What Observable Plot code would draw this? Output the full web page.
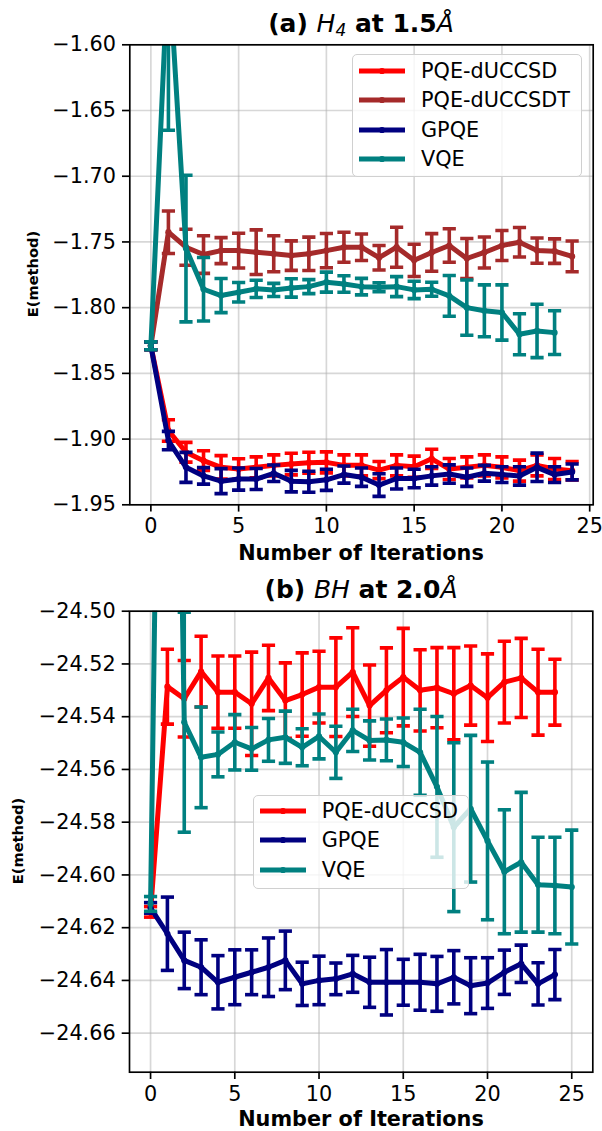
<!DOCTYPE html>
<html>
<head>
<meta charset="utf-8">
<script src="https://cdn.jsdelivr.net/npm/d3@7"></script>
<script src="https://cdn.jsdelivr.net/npm/@observablehq/plot@0.6"></script>
<style>
  body { margin: 0; background: #fff; font-family: "DejaVu Sans", sans-serif; }
  #root { position: relative; width: 602px; height: 1131px; overflow: hidden; background: #fff; }
  .abs { position: absolute; }
  .title { font-weight: bold; font-size: 25px; line-height: 25px; white-space: nowrap; transform: translateX(-50%); color: #000; }
  .title i { font-weight: normal; }
  .xlab { font-weight: bold; font-size: 20.8px; line-height: 20.8px; white-space: nowrap; transform: translateX(-50%); }
  .ylab { font-weight: bold; font-size: 14.6px; line-height: 14.6px; white-space: nowrap; transform: translate(-50%, -50%) rotate(-90deg); }
  .legend { background: rgba(255,255,255,0.8); border: 1.5px solid #d0d0d0; border-radius: 5px; box-sizing: border-box; }
  .legtext { font-size: 20.8px; line-height: 20.8px; white-space: nowrap; color: #000; }
</style>
</head>
<body>
<div id="root"></div>
<script>
// ---------------- data ----------------
const seriesNames = ["PQE-dUCCSD", "PQE-dUCCSDT", "GPQE", "VQE"];
const seriesColors = ["#ff0000", "#a52a2a", "#000080", "#008080"];

const xTickLabels = [0, 5, 10, 15, 20, 25];
const yTicksA = [-1.95, -1.90, -1.85, -1.80, -1.75, -1.70, -1.65, -1.60];
const yTicksB = [-24.66, -24.64, -24.62, -24.60, -24.58, -24.56, -24.54, -24.52, -24.50];

// Panel (a): H4 at 1.5 Å
const itersA = [0,1,2,3,4,5,6,7,8,9,10,11,12,13,14,15,16,17,18,19,20,21,22,23,24];
const itersAvqe = [0,1,2,3,4,5,6,7,8,9,10,11,12,13,14,15,16,17,18,19,20,21,22,23];

const aPqeSD = [-1.829,-1.8935,-1.910,-1.9164,-1.9215,-1.9228,-1.9215,-1.920,-1.919,-1.918,-1.9177,-1.920,-1.920,-1.9236,-1.920,-1.921,-1.915,-1.9228,-1.9215,-1.920,-1.9215,-1.924,-1.920,-1.9228,-1.924];
const aPqeSDerr = [0.003,0.0082,0.0075,0.0075,0.0089,0.0078,0.008,0.008,0.0082,0.008,0.008,0.008,0.008,0.0065,0.008,0.008,0.0073,0.008,0.008,0.008,0.008,0.008,0.008,0.008,0.007];

const aPqeSDT = [-1.829,-1.7426,-1.754,-1.7596,-1.7566,-1.7566,-1.7578,-1.759,-1.7604,-1.759,-1.7566,-1.754,-1.754,-1.762,-1.754,-1.764,-1.758,-1.7527,-1.7626,-1.758,-1.7527,-1.7502,-1.7566,-1.757,-1.761];
const aPqeSDTerr = [0.003,0.0162,0.0137,0.0143,0.0099,0.0132,0.017,0.0137,0.0112,0.0127,0.013,0.0114,0.0101,0.0093,0.0152,0.0123,0.0143,0.0127,0.0152,0.0118,0.0114,0.0112,0.0096,0.0093,0.0117];

const aGpqe = [-1.829,-1.9011,-1.9215,-1.928,-1.932,-1.9304,-1.9304,-1.926,-1.932,-1.9325,-1.931,-1.927,-1.929,-1.935,-1.930,-1.930,-1.928,-1.9266,-1.929,-1.926,-1.927,-1.928,-1.9215,-1.927,-1.925];
const aGpqeErr = [0.003,0.007,0.0114,0.0063,0.0095,0.0084,0.008,0.0063,0.0082,0.008,0.008,0.0065,0.007,0.0086,0.008,0.007,0.007,0.007,0.007,0.006,0.006,0.007,0.0108,0.006,0.006];

const aVqe = [-1.829,-1.535,-1.755,-1.786,-1.7908,-1.7883,-1.7857,-1.7865,-1.785,-1.784,-1.7806,-1.782,-1.784,-1.7844,-1.784,-1.7865,-1.786,-1.791,-1.800,-1.8024,-1.8037,-1.8202,-1.8177,-1.819];
const aVqeErr = [0.003,0.13,0.0558,0.0242,0.013,0.0074,0.0066,0.005,0.007,0.0053,0.0076,0.0063,0.0063,0.0034,0.0076,0.0066,0.0053,0.0155,0.021,0.0197,0.021,0.0156,0.0203,0.0166];

// Panel (b): BH at 2.0 Å
const itersB = [0,1,2,3,4,5,6,7,8,9,10,11,12,13,14,15,16,17,18,19,20,21,22,23,24];
const itersBvqe = [0,1,2,3,4,5,6,7,8,9,10,11,12,13,14,15,16,17,18,19,20,21,22,23,24,25];

const bPqeSD = [-24.614,-24.5286,-24.5332,-24.5229,-24.5307,-24.5307,-24.5351,-24.5253,-24.5339,-24.5316,-24.5288,-24.5288,-24.5231,-24.5358,-24.530,-24.525,-24.530,-24.529,-24.5313,-24.5282,-24.5328,-24.5269,-24.5253,-24.5307,-24.5307];
const bPqeSDerr = [0.002,0.0142,0.0145,0.0134,0.0137,0.0137,0.0196,0.0124,0.0143,0.0158,0.0136,0.0187,0.0168,0.0154,0.0161,0.0185,0.0154,0.0152,0.0175,0.015,0.0166,0.0155,0.015,0.0163,0.0125];

const bGpqe = [-24.6125,-24.6223,-24.6324,-24.635,-24.6407,-24.6388,-24.6369,-24.635,-24.6324,-24.6413,-24.640,-24.6394,-24.6375,-24.6407,-24.6407,-24.6407,-24.6407,-24.6413,-24.6388,-24.642,-24.641,-24.6369,-24.6337,-24.6413,-24.6378];
const bGpqeErr = [0.002,0.0139,0.0107,0.0104,0.0101,0.0104,0.0085,0.0111,0.0111,0.0082,0.0092,0.006,0.007,0.0095,0.0124,0.0087,0.0106,0.0104,0.0101,0.0106,0.0096,0.0084,0.0071,0.008,0.0095];

const bVqe = [-24.611,-24.16,-24.5421,-24.5554,-24.5543,-24.5497,-24.5522,-24.5488,-24.5478,-24.5516,-24.5475,-24.5535,-24.5452,-24.549,-24.5488,-24.5497,-24.5535,-24.5666,-24.5819,-24.5749,-24.5871,-24.5988,-24.5952,-24.6037,-24.604,-24.6046];
const bVqeErr = [0.0028,0.05,0.0417,0.0191,0.0085,0.0105,0.0081,0.0081,0.0099,0.007,0.0085,0.0099,0.008,0.0074,0.0079,0.0092,0.0163,0.0267,0.032,0.0278,0.0299,0.0235,0.0265,0.018,0.0183,0.0216];

// ---------------- drawing ----------------
const colorOf = name => seriesColors[seriesNames.indexOf(name)];
const capSymbol = {
  draw(context, size) {
    const r = Math.sqrt(size / Math.PI);
    context.moveTo(-r, 0);
    context.lineTo(r, 0);
  }
};
const FS = 20.8;
const LW = 1.67;

function buildPanel(cfg) {
  const marks = [
    Plot.gridX(xTickLabels, {stroke: "#b0b0b0", strokeOpacity: 0.5, strokeWidth: LW}),
    Plot.gridY(cfg.yTicks, {stroke: "#b0b0b0", strokeOpacity: 0.5, strokeWidth: LW})
  ];
  for (const s of cfg.series) {
    const c = colorOf(s.name);
    const rows = s.y.map((v, k) => ({x: s.x[k], y: v, lo: v - s.e[k], hi: v + s.e[k]}));
    marks.push(Plot.line(rows, {x: "x", y: "y", stroke: c, strokeWidth: 5, strokeLinejoin: "round", clip: true}));
    marks.push(Plot.ruleX(rows, {x: "x", y1: "lo", y2: "hi", stroke: c, strokeWidth: 3.6, clip: true}));
    marks.push(Plot.dot(rows, {x: "x", y: "lo", symbol: capSymbol, r: 6.6, stroke: c, strokeWidth: 3.6, fill: "none", clip: true}));
    marks.push(Plot.dot(rows, {x: "x", y: "hi", symbol: capSymbol, r: 6.6, stroke: c, strokeWidth: 3.6, fill: "none", clip: true}));
    marks.push(Plot.dot(rows, {x: "x", y: "y", r: 3.1, fill: c, stroke: "none", clip: true}));
  }
  marks.push(
    Plot.frame({stroke: "#000", strokeWidth: LW}),
    Plot.axisX(xTickLabels, {tickSize: 7.3, tickPadding: 6.5, strokeWidth: LW, fontSize: FS, label: null, tickFormat: d => String(d)}),
    Plot.axisY(cfg.yTicks, {tickSize: 7.3, tickPadding: 6.5, strokeWidth: LW, fontSize: FS, label: null, tickFormat: d3.format(".2f")})
  );
  return Plot.plot({
    width: 602,
    height: cfg.height,
    marginTop: cfg.mt, marginBottom: cfg.mb, marginLeft: cfg.ml, marginRight: cfg.mr,
    x: {domain: cfg.xDomain, axis: null},
    y: {domain: cfg.yDomain, axis: null},
    style: {fontFamily: "DejaVu Sans", fontSize: FS + "px", background: "transparent", overflow: "visible", color: "#000"},
    marks
  });
}

const root = document.getElementById("root");
function place(el, left, top) {
  el.classList.add("abs");
  el.style.left = left + "px";
  el.style.top = top + "px";
  root.appendChild(el);
  return el;
}
function div(cls, html) {
  const d = document.createElement("div");
  d.className = cls;
  d.innerHTML = html;
  return d;
}
function legend(names, left, top, width, height, entryTops, sampleX, textX) {
  const box = div("legend", "");
  box.style.width = width + "px";
  box.style.height = height + "px";
  place(box, left, top);
  names.forEach((n, k) => {
    const c = colorOf(n);
    const sw = document.createElementNS("http://www.w3.org/2000/svg", "svg");
    sw.setAttribute("width", 48); sw.setAttribute("height", 12);
    sw.innerHTML = `<line x1="1" y1="6" x2="47" y2="6" stroke="${c}" stroke-width="5"/><circle cx="24" cy="6" r="3.1" fill="${c}"/>`;
    sw.style.position = "absolute";
    sw.style.left = sampleX + "px";
    sw.style.top = (entryTops[k] - 6) + "px";
    root.appendChild(sw);
    const t = div("legtext", n);
    place(t, textX, entryTops[k] - 10);
  });
}

// Panel (a)
place(div("title", "(a) <i>H</i><sub style='font-size:17px;font-weight:normal;font-style:italic;vertical-align:-4px;line-height:0'>4</sub> at 1.5<i>Å</i>"), 361, 11);
const svgA = buildPanel({
  height: 540, mt: 10.3, mb: 69.7, ml: 129.3, mr: 9.3,
  xDomain: [-1.2, 25.2], yDomain: [-1.95, -1.60], yTicks: yTicksA,
  series: [
    {name: "PQE-dUCCSD", x: itersA, y: aPqeSD, e: aPqeSDerr},
    {name: "PQE-dUCCSDT", x: itersA, y: aPqeSDT, e: aPqeSDTerr},
    {name: "GPQE", x: itersA, y: aGpqe, e: aGpqeErr},
    {name: "VQE", x: itersAvqe, y: aVqe, e: aVqeErr}
  ]
});
place(svgA, 0, 34);
legend(["PQE-dUCCSD", "PQE-dUCCSDT", "GPQE", "VQE"], 351.7, 54, 230, 123, [70.7, 100.3, 129.8, 159.3], 358, 421);
place(div("xlab", "Number of Iterations"), 361, 543);
place(div("ylab", "E(method)"), 33, 274.3);

// Panel (b)
place(div("title", "(b) <i>BH</i> at 2.0<i>Å</i>"), 361, 577);
const svgB = buildPanel({
  height: 531, mt: 10.7, mb: 59.3, ml: 129, mr: 9.7,
  xDomain: [-1.25, 26.25], yDomain: [-24.6748, -24.50], yTicks: yTicksB,
  series: [
    {name: "PQE-dUCCSD", x: itersB, y: bPqeSD, e: bPqeSDerr},
    {name: "GPQE", x: itersB, y: bGpqe, e: bGpqeErr},
    {name: "VQE", x: itersBvqe, y: bVqe, e: bVqeErr}
  ]
});
place(svgB, 0, 600);
legend(["PQE-dUCCSD", "GPQE", "VQE"], 252.7, 795, 216.5, 93.5, [810.7, 840.4, 870], 259, 321.7);
place(div("xlab", "Number of Iterations"), 361, 1109);
place(div("ylab", "E(method)"), 18, 841.2);
</script>
</body>
</html>
